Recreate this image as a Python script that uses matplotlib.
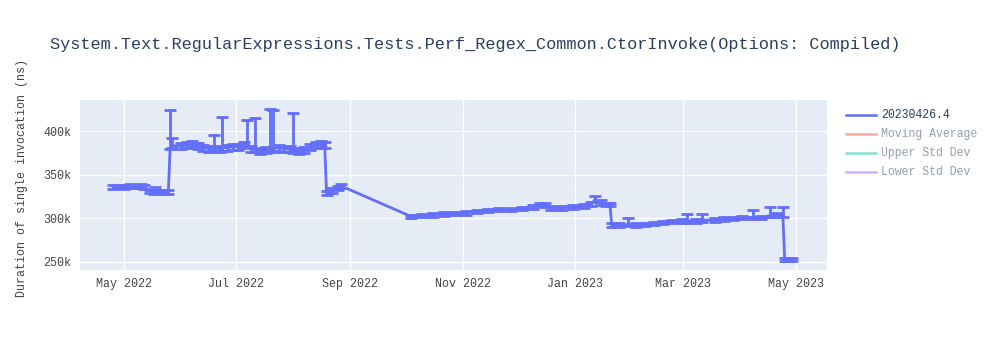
import pandas as pd
import matplotlib
matplotlib.use('Agg')
import matplotlib.pyplot as plt
import matplotlib.dates as mdates
from matplotlib.lines import Line2D
from matplotlib.ticker import FuncFormatter

title = "System.Text.RegularExpressions.Tests.Perf_Regex_Common.CtorInvoke(Options: Compiled)"
series_name = "20230426.4"
hidden_names = ["Moving Average", "Upper Std Dev", "Lower Std Dev"]
hidden_colors = ["#EF553B", "#00cc96", "#ab63fa"]

dates = [
    "2022-04-25", "2022-04-28", "2022-05-01", "2022-05-04", "2022-05-07", "2022-05-10", "2022-05-12",
    "2022-05-15", "2022-05-17", "2022-05-18", "2022-05-20", "2022-05-23", "2022-05-25",
    "2022-05-26", "2022-05-27", "2022-06-01", "2022-06-04", "2022-06-07", "2022-06-10",
    "2022-06-13", "2022-06-16", "2022-06-19", "2022-06-22", "2022-06-23", "2022-06-26",
    "2022-06-29", "2022-07-02", "2022-07-05", "2022-07-07", "2022-07-09", "2022-07-11",
    "2022-07-14", "2022-07-17", "2022-07-19", "2022-07-21", "2022-07-24", "2022-07-27",
    "2022-07-30", "2022-08-01", "2022-08-04", "2022-08-07", "2022-08-10", "2022-08-13",
    "2022-08-16", "2022-08-18", "2022-08-19", "2022-08-22", "2022-08-25", "2022-08-27",
    "2022-10-04", "2022-10-10", "2022-10-16", "2022-10-22", "2022-10-28", "2022-11-03",
    "2022-11-09", "2022-11-15", "2022-11-21", "2022-11-27", "2022-12-03", "2022-12-09",
    "2022-12-13", "2022-12-16", "2022-12-19", "2022-12-25", "2022-12-31", "2023-01-06",
    "2023-01-10", "2023-01-12", "2023-01-15", "2023-01-18", "2023-01-20",
    "2023-01-21", "2023-01-25", "2023-01-30", "2023-02-03", "2023-02-08", "2023-02-13",
    "2023-02-18", "2023-02-23", "2023-02-28", "2023-03-03", "2023-03-08", "2023-03-11",
    "2023-03-18", "2023-03-23", "2023-03-28", "2023-04-02", "2023-04-08", "2023-04-12",
    "2023-04-17", "2023-04-21", "2023-04-24", "2023-04-25", "2023-04-27", "2023-04-29",
]
values = [
    336, 336.5, 336, 337, 336.5, 337, 336,
    331, 330, 333, 331, 330, 330,
    381, 383, 383, 384, 385, 383,
    381, 380, 382, 380, 381, 381,
    382, 382, 384, 386, 380, 379,
    377, 378, 381, 380, 381, 380,
    379, 378, 377, 378, 382, 384,
    385, 384, 329, 332, 335, 337,
    302, 303, 304, 305, 305.5, 306,
    308, 309, 310, 310, 311, 313,
    315.5, 315, 312, 312, 313, 314,
    316, 322, 318, 316, 316,
    292, 292, 293, 292, 293, 294,
    295, 296, 297, 297, 297, 298,
    298, 299, 300, 301, 301, 301,
    303, 304, 304, 252.5, 253, 253,
]
err_low = [
    2, 2, 2, 2, 2, 2, 2,
    2, 2, 2, 2, 2, 2,
    2, 2, 3.5, 3.5, 3.5, 3.5,
    3.5, 3.5, 3.5, 3.5, 3.5, 3.5,
    3.5, 3.5, 3.5, 3.5, 3.5, 3.5,
    3.5, 3.5, 3.5, 3.5, 3.5, 3.5,
    3.5, 3.5, 3.5, 3.5, 3.5, 3.5,
    3.5, 3.5, 2, 2.5, 2.5, 2.5,
    2, 2, 2, 2, 2, 2,
    2, 2, 2, 2, 2, 2,
    2, 2, 2, 2, 2, 2,
    2.5, 3, 3, 2, 2,
    2, 2, 2, 2, 2, 2,
    2, 2, 2, 2, 2, 2,
    2, 2, 2, 2, 2, 2,
    2, 2, 2, 1.5, 1.5, 1.5,
]
err_high = [
    2, 2, 2, 2, 2, 2, 2,
    2, 2, 3, 2, 2, 2,
    43, 9, 3.5, 3.5, 3.5, 3.5,
    3.5, 3.5, 13, 3.5, 35, 3.5,
    3.5, 3.5, 3.5, 27, 3.5, 36,
    3.5, 3.5, 44, 44, 3.5, 3.5,
    3.5, 43, 3.5, 3.5, 3.5, 3.5,
    3.5, 3.5, 2, 2.5, 2.5, 2.5,
    2, 2, 2, 2, 2, 2,
    2, 2, 2, 2, 2, 2,
    2, 2, 2, 2, 2, 2,
    3, 4, 3, 2, 2,
    2, 2, 7, 2, 2, 2,
    2, 2, 2, 8, 2, 7,
    2, 2, 2, 2, 9, 2,
    10, 2, 9, 1.5, 1.5, 1.5,
]

x = pd.to_datetime(dates)
y = [v * 1000 for v in values]
yerr = [[e * 1000 for e in err_low], [e * 1000 for e in err_high]]

mono = "Liberation Mono"
text_color = "#2a3f5f"
tick_color = "#444444"

fig = plt.figure(figsize=(10, 3.5), dpi=100)
ax = fig.add_axes([0.08, 0.229, 0.747, 0.485])
ax.set_facecolor("#E5ECF6")
for s in ax.spines.values():
    s.set_visible(False)

ax.errorbar(x, y, yerr=yerr, color="#636efa", ecolor="#636efa", lw=2,
            elinewidth=2, capsize=4, capthick=2, zorder=3)

ax.set_xlim(pd.Timestamp("2022-04-07"), pd.Timestamp("2023-05-18"))
ax.set_ylim(240800, 435600)
ax.set_yticks([250000, 300000, 350000, 400000])
ax.yaxis.set_major_formatter(FuncFormatter(lambda v, p: "%dk" % (v / 1000)))
ax.xaxis.set_major_locator(mdates.MonthLocator(bymonth=[1, 3, 5, 7, 9, 11]))
ax.xaxis.set_major_formatter(mdates.DateFormatter("%b %Y"))
ax.grid(True, color="white", lw=1, zorder=0)
ax.set_axisbelow(True)
ax.tick_params(length=0, pad=6, labelsize=8.4, labelcolor=tick_color)
for lab in ax.get_xticklabels() + ax.get_yticklabels():
    lab.set_family(mono)

fig.text(0.022, 1 - 178 / 350, "Duration of single invocation (ns)", rotation=90, va="center",
         ha="center", family=mono, fontsize=8.4, color=tick_color)
fig.text(0.05, 1 - 45 / 350, title, family=mono, fontsize=12.2, color=text_color,
         va="center", ha="left")

# legend
leg_y = [115, 134, 153, 172]
names = [series_name] + hidden_names
colors = ["#636efa"] + hidden_colors
for i, (nm, c) in enumerate(zip(names, colors)):
    yy = 1 - leg_y[i] / 350
    alpha = 1 if i == 0 else 0.5
    fig.add_artist(Line2D([0.846, 0.876], [yy, yy], color=c, lw=1.8, alpha=alpha))
    fig.text(0.881, yy, nm, family=mono, fontsize=8.3, color=text_color,
             alpha=alpha, va="center", ha="left")

fig.savefig("out.png", dpi=100)
